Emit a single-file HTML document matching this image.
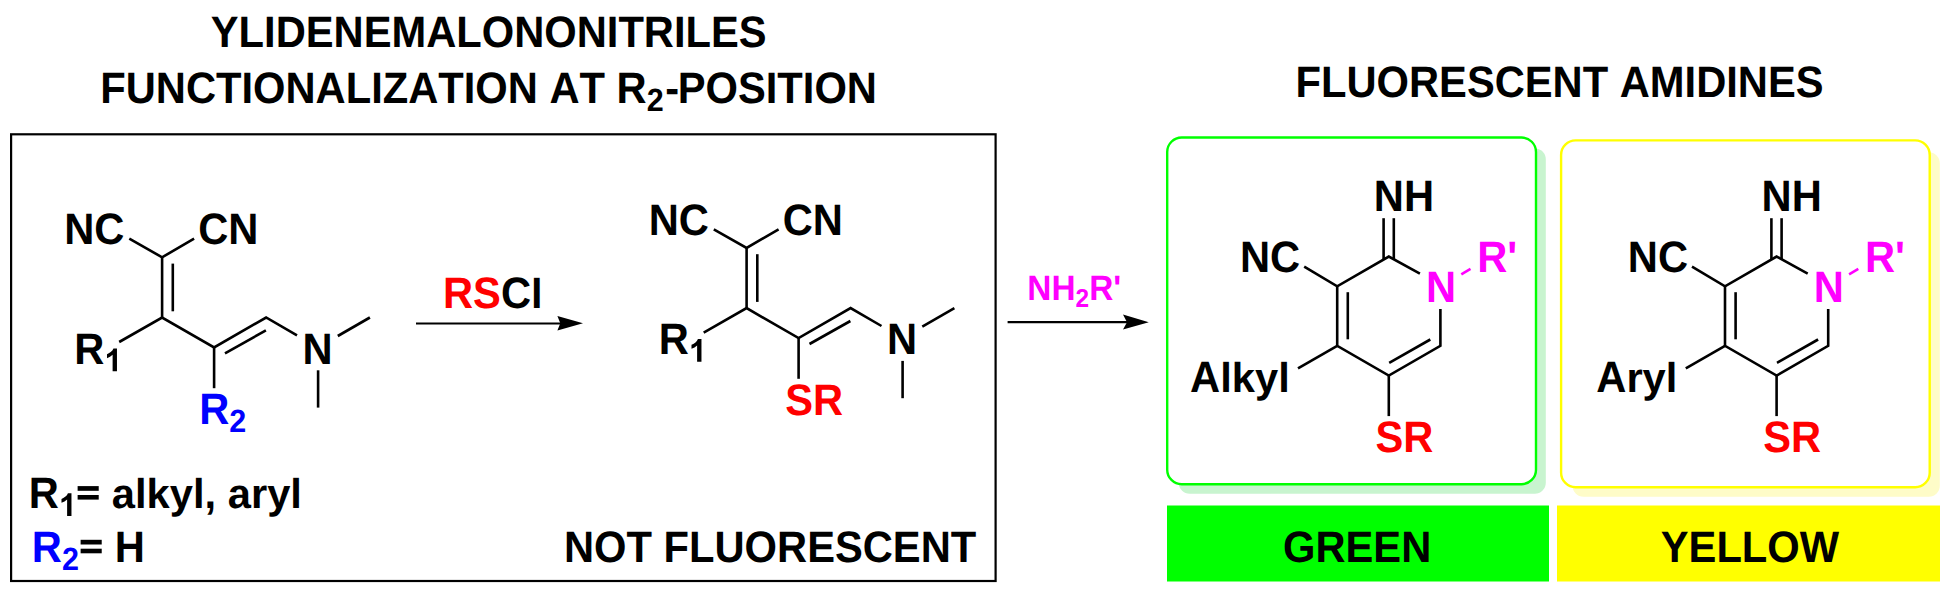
<!DOCTYPE html>
<html><head><meta charset="utf-8"><style>
html,body{margin:0;padding:0;background:#fff;width:1951px;height:592px;overflow:hidden}
svg{position:absolute;left:0;top:0;font-family:"Liberation Sans",sans-serif}
text{font-kerning:none;font-feature-settings:"kern" 0;text-rendering:geometricPrecision}
</style></head><body>
<svg width="1951" height="592" viewBox="0 0 1951 592">
<g transform="translate(210.79 46.50) scale(1 1.055)"><text x="0" y="0" font-family="Liberation Sans" font-weight="bold" font-size="41.70" fill="#000" xml:space="preserve">YLIDENEMALONONITRILES</text></g>
<g transform="translate(100.21 102.70) scale(1 1.055)"><text x="0" y="0" font-family="Liberation Sans" font-weight="bold" font-size="41.70" fill="#000" xml:space="preserve">FUNCTIONALIZATION AT R</text></g>
<g transform="translate(646.87 110.60) scale(1 1.055)"><text x="0" y="0" font-family="Liberation Sans" font-weight="bold" font-size="30.50" fill="#000">2</text></g>
<g transform="translate(665.13 102.70) scale(1 1.055)"><text x="0" y="0" font-family="Liberation Sans" font-weight="bold" font-size="41.70" fill="#000">-</text></g>
<g transform="translate(677.72 102.70) scale(1 1.055)"><text x="0" y="0" font-family="Liberation Sans" font-weight="bold" font-size="41.70" fill="#000" xml:space="preserve">POSITION</text></g>
<g transform="translate(1295.51 96.70) scale(1 1.055)"><text x="0" y="0" font-family="Liberation Sans" font-weight="bold" font-size="41.70" fill="#000" xml:space="preserve">FLUORESCENT AMIDINES</text></g>
<rect x="11.1" y="134.3" width="984.5" height="446.7" fill="none" stroke="#000" stroke-width="2.2"/>
<polyline points="129.30,238.70 162.10,257.30 194.10,238.70" fill="none" stroke="#000" stroke-width="2.60" stroke-linejoin="miter"/>
<line x1="162.10" y1="257.30" x2="162.10" y2="317.50" stroke="#000" stroke-width="2.60"/>
<line x1="172.80" y1="263.60" x2="172.80" y2="311.30" stroke="#000" stroke-width="2.60"/>
<polyline points="119.20,342.00 162.10,317.50 214.10,347.50 266.10,317.50 297.00,335.40" fill="none" stroke="#000" stroke-width="2.60" stroke-linejoin="miter"/>
<line x1="225.00" y1="353.40" x2="265.90" y2="330.40" stroke="#000" stroke-width="2.60"/>
<line x1="214.10" y1="347.50" x2="214.10" y2="388.20" stroke="#000" stroke-width="2.60"/>
<line x1="337.80" y1="336.00" x2="369.90" y2="317.50" stroke="#000" stroke-width="2.60"/>
<line x1="318.10" y1="370.30" x2="318.10" y2="407.60" stroke="#000" stroke-width="2.60"/>
<g transform="translate(64.21 244.20) scale(1 1.055)"><text x="0" y="0" font-family="Liberation Sans" font-weight="bold" font-size="41.70" fill="#000" xml:space="preserve">NC</text></g>
<g transform="translate(198.19 244.20) scale(1 1.055)"><text x="0" y="0" font-family="Liberation Sans" font-weight="bold" font-size="41.70" fill="#000" xml:space="preserve">CN</text></g>
<g transform="translate(74.31 363.50) scale(1 1.055)"><text x="0" y="0" font-family="Liberation Sans" font-weight="bold" font-size="41.70" fill="#000" xml:space="preserve">R</text></g>
<path transform="translate(105.32 371.20) scale(0.01549 -0.01549)" d="M752,0H471V1056C368,960 247,889 108,843V1097C181,1121 261,1166 347,1232C433,1299 492,1377 524,1466H752Z" fill="#000"/>
<g transform="translate(302.61 363.70) scale(1 1.055)"><text x="0" y="0" font-family="Liberation Sans" font-weight="bold" font-size="41.70" fill="#000" xml:space="preserve">N</text></g>
<g transform="translate(199.21 424.20) scale(1 1.055)"><text x="0" y="0" font-family="Liberation Sans" font-weight="bold" font-size="41.70" fill="#0000ff" xml:space="preserve">R</text></g>
<g transform="translate(229.32 432.10) scale(1 1.055)"><text x="0" y="0" font-family="Liberation Sans" font-weight="bold" font-size="30.50" fill="#0000ff">2</text></g>
<polyline points="713.80,229.30 746.60,247.90 778.60,229.30" fill="none" stroke="#000" stroke-width="2.60" stroke-linejoin="miter"/>
<line x1="746.60" y1="247.90" x2="746.60" y2="308.10" stroke="#000" stroke-width="2.60"/>
<line x1="757.30" y1="254.20" x2="757.30" y2="301.90" stroke="#000" stroke-width="2.60"/>
<polyline points="703.70,332.60 746.60,308.10 798.60,338.10 850.60,308.10 881.50,326.00" fill="none" stroke="#000" stroke-width="2.60" stroke-linejoin="miter"/>
<line x1="809.50" y1="344.00" x2="850.40" y2="321.00" stroke="#000" stroke-width="2.60"/>
<line x1="798.60" y1="338.10" x2="798.60" y2="378.80" stroke="#000" stroke-width="2.60"/>
<line x1="922.30" y1="326.60" x2="954.40" y2="308.10" stroke="#000" stroke-width="2.60"/>
<line x1="902.60" y1="360.90" x2="902.60" y2="398.20" stroke="#000" stroke-width="2.60"/>
<g transform="translate(648.71 234.80) scale(1 1.055)"><text x="0" y="0" font-family="Liberation Sans" font-weight="bold" font-size="41.70" fill="#000" xml:space="preserve">NC</text></g>
<g transform="translate(782.69 234.80) scale(1 1.055)"><text x="0" y="0" font-family="Liberation Sans" font-weight="bold" font-size="41.70" fill="#000" xml:space="preserve">CN</text></g>
<g transform="translate(658.81 354.10) scale(1 1.055)"><text x="0" y="0" font-family="Liberation Sans" font-weight="bold" font-size="41.70" fill="#000" xml:space="preserve">R</text></g>
<path transform="translate(689.82 361.80) scale(0.01549 -0.01549)" d="M752,0H471V1056C368,960 247,889 108,843V1097C181,1121 261,1166 347,1232C433,1299 492,1377 524,1466H752Z" fill="#000"/>
<g transform="translate(887.11 354.30) scale(1 1.055)"><text x="0" y="0" font-family="Liberation Sans" font-weight="bold" font-size="41.70" fill="#000" xml:space="preserve">N</text></g>
<g transform="translate(785.30 414.80) scale(1 1.055)"><text x="0" y="0" font-family="Liberation Sans" font-weight="bold" font-size="41.70" fill="#ff0000" xml:space="preserve">SR</text></g>
<g transform="translate(443.01 307.50) scale(1 1.055)"><text x="0" y="0" font-family="Liberation Sans" font-weight="bold" font-size="41.70" fill="#ff0000" xml:space="preserve">RS</text></g>
<g transform="translate(500.94 307.50) scale(1 1.055)"><text x="0" y="0" font-family="Liberation Sans" font-weight="bold" font-size="41.70" fill="#000" xml:space="preserve">C</text></g>
<g transform="translate(531.05 307.50) scale(1 1.000)"><text x="0" y="0" font-family="Liberation Sans" font-weight="bold" font-size="41.70" fill="#000" xml:space="preserve">l</text></g>
<line x1="416.00" y1="323.40" x2="565.00" y2="323.40" stroke="#000" stroke-width="2.00"/>
<path d="M583,323.3 L557.4,316.1 L560.3,323.3 L557.4,330.5 Z" fill="#000"/>
<g transform="translate(28.81 508.20) scale(1 1.055)"><text x="0" y="0" font-family="Liberation Sans" font-weight="bold" font-size="41.70" fill="#000" xml:space="preserve">R</text></g>
<path transform="translate(59.82 515.90) scale(0.01549 -0.01549)" d="M752,0H471V1056C368,960 247,889 108,843V1097C181,1121 261,1166 347,1232C433,1299 492,1377 524,1466H752Z" fill="#000"/>
<rect x="77.62" y="486.10" width="21.10" height="4.70" fill="#000"/>
<rect x="77.62" y="495.00" width="21.10" height="4.60" fill="#000"/>
<g transform="translate(111.83 508.20) scale(1 1.000)"><text x="0" y="0" font-family="Liberation Sans" font-weight="bold" font-size="41.70" fill="#000" xml:space="preserve">alkyl</text></g>
<g transform="translate(204.57 508.20) scale(1 1.055)"><text x="0" y="0" font-family="Liberation Sans" font-weight="bold" font-size="41.70" fill="#000" xml:space="preserve">, </text></g>
<g transform="translate(227.74 508.20) scale(1 1.000)"><text x="0" y="0" font-family="Liberation Sans" font-weight="bold" font-size="41.70" fill="#000" xml:space="preserve">aryl</text></g>
<g transform="translate(31.81 561.90) scale(1 1.055)"><text x="0" y="0" font-family="Liberation Sans" font-weight="bold" font-size="41.70" fill="#0000ff" xml:space="preserve">R</text></g>
<g transform="translate(61.92 569.80) scale(1 1.055)"><text x="0" y="0" font-family="Liberation Sans" font-weight="bold" font-size="30.50" fill="#0000ff">2</text></g>
<rect x="80.62" y="539.80" width="21.10" height="4.70" fill="#000"/>
<rect x="80.62" y="548.70" width="21.10" height="4.60" fill="#000"/>
<g transform="translate(103.24 561.90) scale(1 1.055)"><text x="0" y="0" font-family="Liberation Sans" font-weight="bold" font-size="41.70" fill="#000" xml:space="preserve"> H</text></g>
<g transform="translate(564.01 562.20) scale(1 1.055)"><text x="0" y="0" font-family="Liberation Sans" font-weight="bold" font-size="41.70" fill="#000" xml:space="preserve">NOT FLUORESCENT</text></g>
<g transform="translate(1027.37 300.20) scale(1 1.055)"><text x="0" y="0" font-family="Liberation Sans" font-weight="bold" font-size="33.40" fill="#ff00ff" xml:space="preserve">NH</text></g>
<g transform="translate(1075.61 306.53) scale(1 1.055)"><text x="0" y="0" font-family="Liberation Sans" font-weight="bold" font-size="24.43" fill="#ff00ff">2</text></g>
<g transform="translate(1089.19 300.20) scale(1 1.055)"><text x="0" y="0" font-family="Liberation Sans" font-weight="bold" font-size="33.40" fill="#ff00ff" xml:space="preserve">R&#39;</text></g>
<line x1="1007.60" y1="322.20" x2="1130.00" y2="322.20" stroke="#000" stroke-width="2.20"/>
<path d="M1148.8,322.2 L1123,314.5 L1127,322.2 L1123,329.5 Z" fill="#000"/>
<rect x="1178.70" y="148.40" width="367.10" height="345.30" rx="11" fill="#c8f4cf"/>
<rect x="1167.20" y="137.50" width="368.80" height="346.70" rx="14.5" fill="#fff" stroke="#00ff00" stroke-width="2.4"/>
<rect x="1572.50" y="152.20" width="367.30" height="344.60" rx="11" fill="#fefcc8"/>
<rect x="1561.10" y="140.40" width="368.60" height="346.80" rx="14.5" fill="#fff" stroke="#ffff00" stroke-width="2.4"/>
<line x1="1383.60" y1="218.20" x2="1383.60" y2="259.50" stroke="#000" stroke-width="2.60"/>
<line x1="1393.80" y1="218.20" x2="1393.80" y2="259.50" stroke="#000" stroke-width="2.60"/>
<polyline points="1304.20,266.70 1337.20,286.30 1388.80,256.50 1419.90,273.60" fill="none" stroke="#000" stroke-width="2.60" stroke-linejoin="miter"/>
<polyline points="1337.20,286.30 1337.20,345.80 1388.80,375.60 1440.40,345.80 1440.40,309.00" fill="none" stroke="#000" stroke-width="2.60" stroke-linejoin="miter"/>
<line x1="1347.80" y1="292.20" x2="1347.80" y2="339.30" stroke="#000" stroke-width="2.60"/>
<line x1="1389.20" y1="362.80" x2="1430.30" y2="339.50" stroke="#000" stroke-width="2.60"/>
<line x1="1337.20" y1="345.80" x2="1298.00" y2="368.40" stroke="#000" stroke-width="2.60"/>
<line x1="1388.80" y1="375.60" x2="1388.80" y2="416.10" stroke="#000" stroke-width="2.60"/>
<line x1="1461.30" y1="274.30" x2="1470.50" y2="268.90" stroke="#ff00ff" stroke-width="2.60"/>
<g transform="translate(1373.81 211.30) scale(1 1.055)"><text x="0" y="0" font-family="Liberation Sans" font-weight="bold" font-size="41.70" fill="#000" xml:space="preserve">NH</text></g>
<g transform="translate(1240.01 272.10) scale(1 1.055)"><text x="0" y="0" font-family="Liberation Sans" font-weight="bold" font-size="41.70" fill="#000" xml:space="preserve">NC</text></g>
<g transform="translate(1425.91 301.60) scale(1 1.055)"><text x="0" y="0" font-family="Liberation Sans" font-weight="bold" font-size="41.70" fill="#ff00ff" xml:space="preserve">N</text></g>
<g transform="translate(1477.21 272.10) scale(1 1.055)"><text x="0" y="0" font-family="Liberation Sans" font-weight="bold" font-size="41.70" fill="#ff00ff" xml:space="preserve">R&#39;</text></g>
<g transform="translate(1375.40 451.60) scale(1 1.055)"><text x="0" y="0" font-family="Liberation Sans" font-weight="bold" font-size="41.70" fill="#ff0000" xml:space="preserve">SR</text></g>
<g transform="translate(1190.06 391.80) scale(1 1.055)"><text x="0" y="0" font-family="Liberation Sans" font-weight="bold" font-size="41.70" fill="#000" xml:space="preserve">A</text></g>
<g transform="translate(1220.18 391.80) scale(1 1.000)"><text x="0" y="0" font-family="Liberation Sans" font-weight="bold" font-size="41.70" fill="#000" xml:space="preserve">lkyl</text></g>
<line x1="1771.40" y1="218.20" x2="1771.40" y2="259.50" stroke="#000" stroke-width="2.60"/>
<line x1="1781.60" y1="218.20" x2="1781.60" y2="259.50" stroke="#000" stroke-width="2.60"/>
<polyline points="1692.00,266.70 1725.00,286.30 1776.60,256.50 1807.70,273.60" fill="none" stroke="#000" stroke-width="2.60" stroke-linejoin="miter"/>
<polyline points="1725.00,286.30 1725.00,345.80 1776.60,375.60 1828.20,345.80 1828.20,309.00" fill="none" stroke="#000" stroke-width="2.60" stroke-linejoin="miter"/>
<line x1="1735.60" y1="292.20" x2="1735.60" y2="339.30" stroke="#000" stroke-width="2.60"/>
<line x1="1777.00" y1="362.80" x2="1818.10" y2="339.50" stroke="#000" stroke-width="2.60"/>
<line x1="1725.00" y1="345.80" x2="1685.80" y2="368.40" stroke="#000" stroke-width="2.60"/>
<line x1="1776.60" y1="375.60" x2="1776.60" y2="416.10" stroke="#000" stroke-width="2.60"/>
<line x1="1849.10" y1="274.30" x2="1858.30" y2="268.90" stroke="#ff00ff" stroke-width="2.60"/>
<g transform="translate(1761.61 211.30) scale(1 1.055)"><text x="0" y="0" font-family="Liberation Sans" font-weight="bold" font-size="41.70" fill="#000" xml:space="preserve">NH</text></g>
<g transform="translate(1627.81 272.10) scale(1 1.055)"><text x="0" y="0" font-family="Liberation Sans" font-weight="bold" font-size="41.70" fill="#000" xml:space="preserve">NC</text></g>
<g transform="translate(1813.71 301.60) scale(1 1.055)"><text x="0" y="0" font-family="Liberation Sans" font-weight="bold" font-size="41.70" fill="#ff00ff" xml:space="preserve">N</text></g>
<g transform="translate(1865.01 272.10) scale(1 1.055)"><text x="0" y="0" font-family="Liberation Sans" font-weight="bold" font-size="41.70" fill="#ff00ff" xml:space="preserve">R&#39;</text></g>
<g transform="translate(1763.20 451.60) scale(1 1.055)"><text x="0" y="0" font-family="Liberation Sans" font-weight="bold" font-size="41.70" fill="#ff0000" xml:space="preserve">SR</text></g>
<g transform="translate(1596.26 391.80) scale(1 1.055)"><text x="0" y="0" font-family="Liberation Sans" font-weight="bold" font-size="41.70" fill="#000" xml:space="preserve">A</text></g>
<g transform="translate(1626.38 391.80) scale(1 1.000)"><text x="0" y="0" font-family="Liberation Sans" font-weight="bold" font-size="41.70" fill="#000" xml:space="preserve">ryl</text></g>
<rect x="1167" y="505.5" width="382" height="76" fill="#00ff00"/>
<rect x="1557" y="505.5" width="383" height="76" fill="#ffff00"/>
<g transform="translate(1282.99 562.00) scale(1 1.055)"><text x="0" y="0" font-family="Liberation Sans" font-weight="bold" font-size="41.70" fill="#000" xml:space="preserve">GREEN</text></g>
<g transform="translate(1660.79 562.20) scale(1 1.055)"><text x="0" y="0" font-family="Liberation Sans" font-weight="bold" font-size="41.70" fill="#000" xml:space="preserve">YELLOW</text></g>
</svg>
</body></html>
